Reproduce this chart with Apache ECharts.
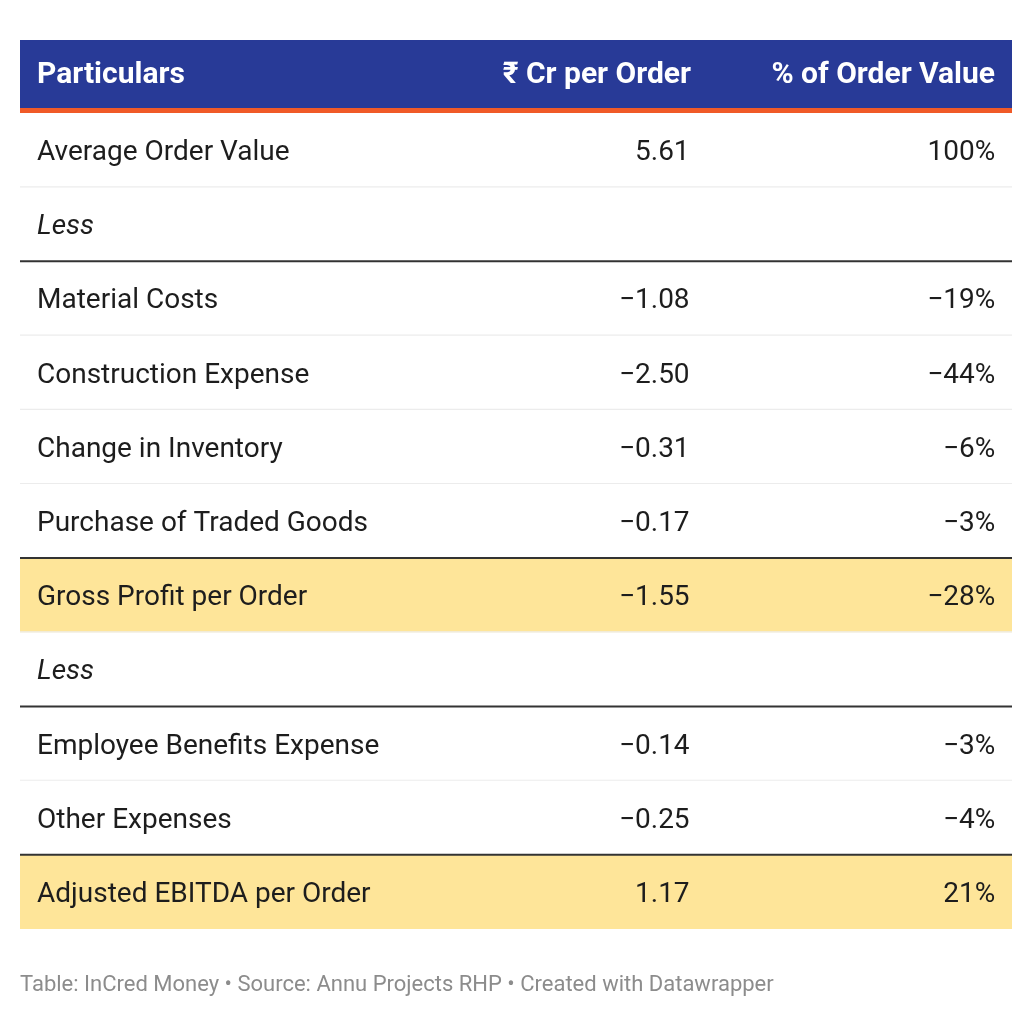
<!DOCTYPE html>
<html>
<head>
<meta charset="utf-8">
<title>Annu Projects unit economics</title>
<script src="https://cdn.jsdelivr.net/npm/echarts@6/dist/echarts.min.js"></script>
<style>
  html, body { margin: 0; padding: 0; background: #ffffff; }
  #main { width: 1032px; height: 1016px; }
</style>
</head>
<body>
<div id="main"></div>
<script>
// table content
let headers = ['Particulars', '₹ Cr per Order', '% of Order Value']
let particulars = [
    'Average Order Value', 'Less', 'Material Costs', 'Construction Expense',
    'Change in Inventory', 'Purchase of Traded Goods', 'Gross Profit per Order',
    'Less', 'Employee Benefits Expense', 'Other Expenses', 'Adjusted EBITDA per Order'
]
let crPerOrder = [5.61, null, -1.08, -2.50, -0.31, -0.17, -1.55, null, -0.14, -0.25, 1.17]
let pctOfOrder = [100, null, -19, -44, -6, -3, -28, null, -3, -4, 21]
let rowKind = ['', 'less', '', '', '', '', 'total', 'less', '', '', 'total']
let ruleAbove = [2, 6, 8, 10]
let footer = 'Table: InCred Money • Source: Annu Projects RHP • Created with Datawrapper'

let FONT = 'Roboto, "Noto Sans", sans-serif'
let BLUE = '#283a97'
let ORANGE = '#f05a28'
let HIGHLIGHT = '#fee599'

// where the right-aligned columns end, as a share of the table width
let col2Right = 0.675
let col3Right = 0.983
let padLeft = 17

function fmtNum(v) {
    if (v == null) return ''
    let s = Math.abs(v).toFixed(2)
    return v < 0 ? '\u2212' + s : s
}
function fmtPct(v) {
    if (v == null) return ''
    return (v < 0 ? '\u2212' : '') + Math.abs(v) + '%'
}

let myChart = echarts.init(document.getElementById('main'))

let rows = particulars.map(function (p, i) { return [0, i] })

function renderRow(params, api) {
    let idx = api.value(1)
    let start = api.coord([0, idx])
    let size = api.size([1, 1])
    let w = size[0]
    let h = size[1]
    let x0 = start[0]
    let y0 = start[1] - h / 2
    let cy = start[1] + 3
    let kind = rowKind[idx]
    let children = []

    if (kind == 'total') {
        children.push({
            type: 'rect',
            shape: { x: x0, y: y0, width: w, height: h },
            style: { fill: HIGHLIGHT }
        })
    }
    // thin light divider under the row
    if (idx < particulars.length - 1 && ruleAbove.indexOf(idx + 1) < 0) {
        children.push({
            type: 'rect',
            shape: { x: x0, y: y0 + h - 1, width: w, height: 1.2 },
            style: { fill: '#ececec' }
        })
    }
    // dark rule on top
    if (ruleAbove.indexOf(idx) >= 0) {
        children.push({
            type: 'rect',
            shape: { x: x0, y: y0 - 1, width: w, height: 2 },
            style: { fill: '#333333' }
        })
    }
    let textBase = {
        fill: '#1d1d1d',
        fontFamily: FONT,
        fontSize: 28,
        verticalAlign: 'middle'
    }
    children.push({
        type: 'text',
        style: Object.assign({}, textBase, {
            x: x0 + padLeft, y: cy, text: particulars[idx], align: 'left',
            fontStyle: kind == 'less' ? 'italic' : 'normal'
        })
    })
    children.push({
        type: 'text',
        style: Object.assign({}, textBase, {
            x: x0 + w * col2Right, y: cy, text: fmtNum(crPerOrder[idx]), align: 'right'
        })
    })
    children.push({
        type: 'text',
        style: Object.assign({}, textBase, {
            x: x0 + w * col3Right, y: cy, text: fmtPct(pctOfOrder[idx]), align: 'right'
        })
    })
    return { type: 'group', children: children }
}

let headStyle = { fill: '#ffffff', fontFamily: FONT, fontSize: 30, fontWeight: 'bold' }

let option = {
    backgroundColor: '#ffffff',
    animation: false,
    grid: { left: 20, right: 20, top: 113, height: 816 },
    xAxis: { type: 'value', min: 0, max: 1, show: false },
    yAxis: {
        type: 'category',
        inverse: true,
        data: particulars,
        show: false
    },
    graphic: [
        { type: 'rect', left: 20, top: 40, shape: { width: 992, height: 68 }, style: { fill: BLUE } },
        { type: 'rect', left: 20, top: 108, shape: { width: 992, height: 5 }, style: { fill: ORANGE } },
        { type: 'text', left: 37, top: 60, style: Object.assign({ text: headers[0] }, headStyle) },
        { type: 'text', right: 1032 - 691, top: 60, style: Object.assign({ text: headers[1] }, headStyle) },
        { type: 'text', right: 1032 - 995, top: 60, style: Object.assign({ text: headers[2] }, headStyle) },
        {
            type: 'text', left: 20, top: 974,
            style: { text: footer, fill: '#8c8c8c', fontFamily: FONT, fontSize: 22 }
        }
    ],
    series: [{
        type: 'custom',
        renderItem: renderRow,
        data: rows,
        silent: true
    }]
}
myChart.setOption(option)
</script>
</body>
</html>
